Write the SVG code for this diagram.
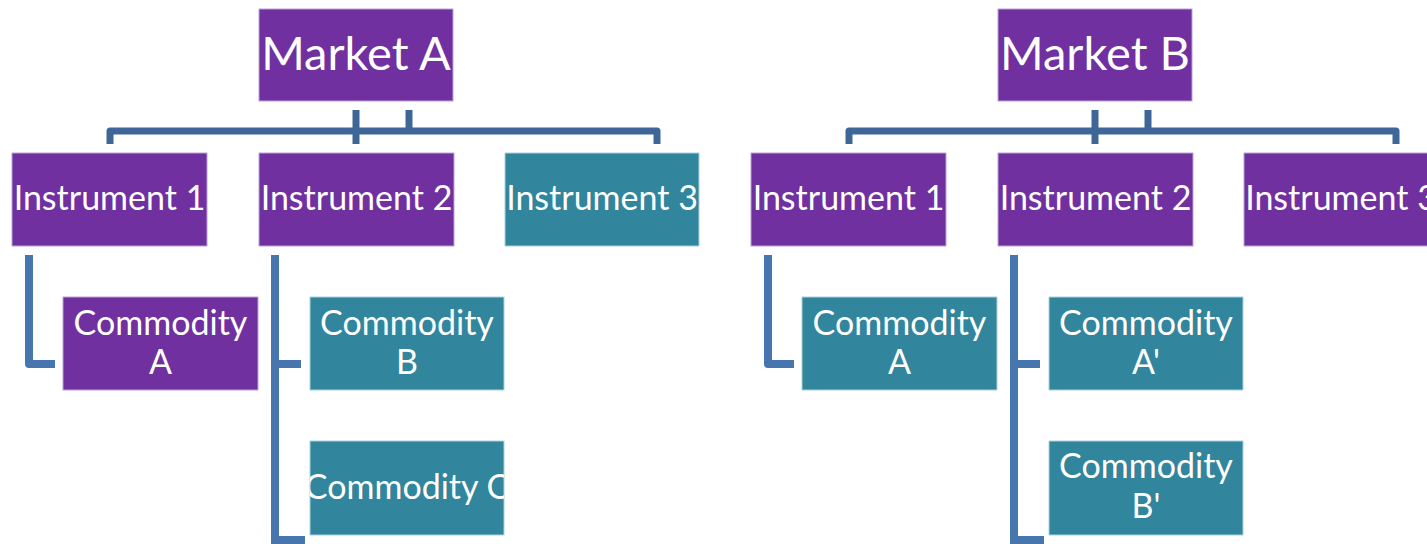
<svg xmlns="http://www.w3.org/2000/svg" width="1427" height="544" viewBox="0 0 1427 544">
<defs>
<style>
.p{fill:#7030A0;stroke:#B9A3D6;stroke-width:1}
.t{fill:#31859C;stroke:#A9D2DD;stroke-width:1}
.lbl{fill:#FFFFFF;font-family:Lato,"Open Sans","Liberation Sans",sans-serif;text-anchor:middle}
.big{font-size:47px}
.mid{font-size:34px}
.c1{fill:none;stroke:#3E6697;stroke-width:7;stroke-linejoin:round}
.c2{fill:none;stroke:#4775AD;stroke-width:8;stroke-linejoin:round}
</style>
<clipPath id="clipC"><rect x="310" y="441" width="194" height="94"/></clipPath>
<clipPath id="clipI3"><rect x="1244" y="153" width="183" height="93"/></clipPath>
</defs>
<rect width="1427" height="544" fill="#FFFFFF"/>
<g id="connectors">
<path class="c1" d="M110,144 V131 H657 V144"/>
<path class="c1" d="M356,110 V144"/>
<path class="c1" d="M409,110 V131"/>
<path class="c2" d="M29,255 V364 H55"/>
<path class="c2" d="M275,255 V548"/>
<path class="c2" d="M275,364 H301"/>
<path class="c2" d="M275,540 H305"/>
<path class="c1" d="M849,144 V131 H1396 V144"/>
<path class="c1" d="M1095,110 V144"/>
<path class="c1" d="M1148,110 V131"/>
<path class="c2" d="M768,255 V364 H794"/>
<path class="c2" d="M1014,255 V548"/>
<path class="c2" d="M1014,364 H1040"/>
<path class="c2" d="M1014,540 H1044"/>
</g>
<g id="marketA"><rect class="p" x="259" y="9" width="194" height="92"/><text class="lbl big" x="356" y="70">Market A</text></g>
<g id="a-inst1"><rect class="p" x="12" y="153" width="195" height="93"/><text class="lbl mid" x="109.5" y="210">Instrument 1</text></g>
<g id="a-inst2"><rect class="p" x="259" y="153" width="195" height="93"/><text class="lbl mid" x="356.5" y="210">Instrument 2</text></g>
<g id="a-inst3"><rect class="t" x="505" y="153" width="194" height="93"/><text class="lbl mid" x="602" y="210">Instrument 3</text></g>
<g id="a-comA"><rect class="p" x="63" y="297" width="195" height="93"/><text class="lbl mid" x="160.5" y="335">Commodity</text><text class="lbl mid" x="160.5" y="374">A</text></g>
<g id="a-comB"><rect class="t" x="310" y="297" width="194" height="93"/><text class="lbl mid" x="407" y="335">Commodity</text><text class="lbl mid" x="407" y="374">B</text></g>
<g id="a-comC"><rect class="t" x="310" y="441" width="194" height="94"/><text class="lbl mid" x="407" y="499" clip-path="url(#clipC)">Commodity C</text></g>
<g id="marketB"><rect class="p" x="998" y="9" width="194" height="92"/><text class="lbl big" x="1095" y="70">Market B</text></g>
<g id="b-inst1"><rect class="p" x="751" y="153" width="195" height="93"/><text class="lbl mid" x="848.5" y="210">Instrument 1</text></g>
<g id="b-inst2"><rect class="p" x="998" y="153" width="195" height="93"/><text class="lbl mid" x="1095.5" y="210">Instrument 2</text></g>
<g id="b-inst3"><rect class="p" x="1244" y="153" width="194" height="93"/><text class="lbl mid" x="1341" y="210" clip-path="url(#clipI3)">Instrument 3</text></g>
<g id="b-comA"><rect class="t" x="802" y="297" width="195" height="93"/><text class="lbl mid" x="899.5" y="335">Commodity</text><text class="lbl mid" x="899.5" y="374">A</text></g>
<g id="b-comA2"><rect class="t" x="1049" y="297" width="194" height="93"/><text class="lbl mid" x="1146" y="335">Commodity</text><text class="lbl mid" x="1146" y="374">A'</text></g>
<g id="b-comB2"><rect class="t" x="1049" y="441" width="194" height="94"/><text class="lbl mid" x="1146" y="478">Commodity</text><text class="lbl mid" x="1146" y="518">B'</text></g>
</svg>
